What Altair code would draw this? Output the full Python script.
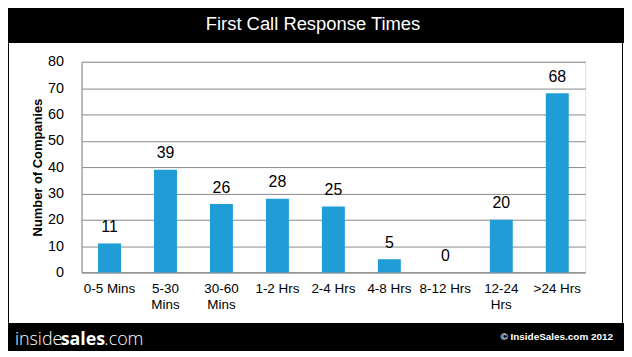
import altair as alt
import pandas as pd

categories = ["0-5 Mins", "5-30 Mins", "30-60 Mins", "1-2 Hrs", "2-4 Hrs",
              "4-8 Hrs", "8-12 Hrs", "12-24 Hrs", ">24 Hrs"]
values = [11, 39, 26, 28, 25, 5, 0, 20, 68]
wrapped = ["5-30 Mins", "30-60 Mins", "12-24 Hrs"]
y_ticks = [0, 10, 20, 30, 40, 50, 60, 70, 80]
title_text = "First Call Response Times"
y_title = "Number of Companies"
footer_left = ["inside", "sales", ".com"]
footer_right = "\u00a9 InsideSales.com 2012"

df = pd.DataFrame({"cat": categories, "val": values})
one = pd.DataFrame({"k": [0]})

FONT = "Liberation Sans"
GRAY = "#888888"

wrap_list = "[" + ",".join("'%s'" % w for w in wrapped) + "]"

x_enc = alt.X("cat:N", sort=categories, title=None,
              scale=alt.Scale(paddingInner=0.59, paddingOuter=0.295),
              axis=alt.Axis(labelAngle=0, ticks=False, domainColor=GRAY,
                            labelFont=FONT, labelFontSize=13.5, labelColor="black",
                            labelPadding=9, labelLineHeight=16, labelBaseline="top",
                            labelExpr="indexof(%s, datum.label) >= 0 ? split(datum.label, ' ') : datum.label" % wrap_list))
y_enc = alt.Y("val:Q", title=y_title,
              scale=alt.Scale(domain=[0, 80], nice=False),
              axis=alt.Axis(values=y_ticks, ticks=False, domainColor=GRAY,
                            grid=True, gridColor=GRAY, labelFont=FONT, labelFontSize=14.5,
                            labelColor="black", labelPadding=18, labelOverlap=False,
                            titleFont=FONT, titleFontSize=13, titleFontWeight="bold",
                            titleColor="black", titlePadding=3))

bars = alt.Chart(df).mark_bar(color="#209dd6").encode(x=x_enc, y=y_enc)
labels = alt.Chart(df).mark_text(font=FONT, fontSize=16, color="black",
                                 baseline="alphabetic", dy=-11.5).encode(
    x=x_enc, y=y_enc, text="val:Q")

# decorations (pixel positions relative to plot origin)
header = alt.Chart(one).mark_rect(color="black").encode(
    x=alt.value(-90), x2=alt.value(560), y=alt.value(-57), y2=alt.value(-19))
footer = alt.Chart(one).mark_rect(color="black").encode(
    x=alt.value(-90), x2=alt.value(560), y=alt.value(263), y2=alt.value(300))
left_border = alt.Chart(one).mark_rule(color="black", strokeWidth=1).encode(
    x=alt.value(-73.5), y=alt.value(-19), y2=alt.value(263))
right_border = alt.Chart(one).mark_rule(color="black", strokeWidth=1).encode(
    x=alt.value(544.5), y=alt.value(-19), y2=alt.value(263))
title = alt.Chart(one).mark_text(font=FONT, fontSize=18.5, color="white",
                                 baseline="middle", align="center").encode(
    x=alt.value(233), y=alt.value(-38), text=alt.value(title_text))
f1 = alt.Chart(one).mark_text(font="Open Sans", fontSize=18, fontWeight=300, color="white",
                              baseline="alphabetic", align="left").encode(
    x=alt.value(-67), y=alt.value(285), text=alt.value(footer_left[0]))
f2 = alt.Chart(one).mark_text(font="Open Sans", fontSize=18, fontWeight="bold", color="white",
                              baseline="alphabetic", align="left").encode(
    x=alt.value(-21), y=alt.value(285), text=alt.value(footer_left[1]))
f3 = alt.Chart(one).mark_text(font="Open Sans", fontSize=18, fontWeight=300, color="white",
                              baseline="alphabetic", align="left").encode(
    x=alt.value(23), y=alt.value(285), text=alt.value(footer_left[2]))
f4 = alt.Chart(one).mark_text(font=FONT, fontSize=10, fontWeight="bold", color="white",
                              baseline="alphabetic", align="right").encode(
    x=alt.value(535), y=alt.value(280), text=alt.value(footer_right))

chart = alt.layer(header, footer, left_border, right_border, title, f1, f2, f3, f4,
                  bars, labels).properties(
    width=507, height=212,
    autosize=alt.AutoSizeParams(type="none"),
    padding={"left": 74, "top": 53, "right": 39, "bottom": 78},
).configure_view(stroke=GRAY, strokeWidth=1).configure(background="white")

chart.save("out.html", embed_options={"renderer": "svg", "actions": False})
